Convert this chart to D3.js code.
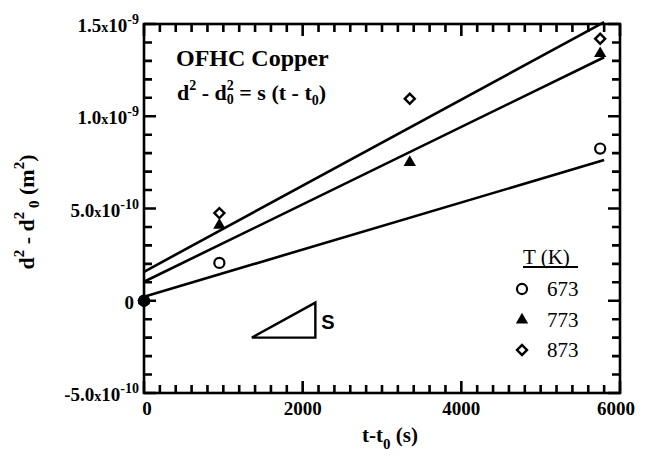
<!DOCTYPE html>
<html><head><meta charset="utf-8">
<script src="https://cdn.jsdelivr.net/npm/d3@7"></script>
<style>
body{margin:0;background:#fff}
</style>
</head><body>
<svg id="c" width="645" height="457"></svg>
<script>
// ---- data ----
const temps = ["673", "773", "873"];
const times = [0, 950, 3350, 5750];
const v673 = [0, 2.05e-10, null, 8.25e-10];
const v773 = [0, 4.1e-10, 7.5e-10, 13.4e-10];
const v873 = [0, 4.75e-10, 10.95e-10, 14.2e-10];
const fitIntercept = [0.22e-10, 1.03e-10, 1.57e-10];
const fitSlope = [1.277e-13, 2.098e-13, 2.333e-13];
const fitRange = [0, 5800];
const xTicks = [0, 2000, 4000, 6000];
const yTicks = [-5e-10, 0, 5e-10, 1e-9, 1.5e-9];
const yTickLabels = [["-5.0x10", "-10"], ["0", ""], ["5.0x10", "-10"], ["1.0x10", "-9"], ["1.5x10", "-9"]];
const slopeTriT = [1360, 2160, 2160];
const slopeTriV = [-2.0e-10, -0.1e-10, -2.0e-10];

const SERIF = "Liberation Serif";
const svg = d3.select("#c");
const x = d3.scaleLinear().domain([0, 6000]).range([144, 620]);
const y = d3.scaleLinear().domain([-5e-10, 1.5e-9]).range([393, 24]);
const X0 = 144, X1 = 620, Y0 = 393, Y1 = 24;

function txt(sel, fam) {
  return sel.append("text").attr("font-family", fam || SERIF)
    .attr("font-weight", "bold").attr("fill", "#000");
}

// ---- frame ----
svg.append("rect").attr("x", X0).attr("y", Y1).attr("width", X1 - X0).attr("height", Y0 - Y1)
  .attr("fill", "none").attr("stroke", "#000").attr("stroke-width", 2.6);

// ---- ticks (inward on all sides) ----
let tickD = "";
d3.range(0, 6001, 200).forEach(t => {
  const len = (t % 2000 === 0) ? 12 : 8;
  tickD += `M${x(t)},${Y0}V${Y0 - len}M${x(t)},${Y1}V${Y1 + len}`;
});
d3.range(-5, 15.5, 1).forEach(k => {
  const len = (k % 5 === 0) ? 12 : 8;
  const py = y(k * 1e-10);
  tickD += `M${X0},${py}H${X0 + len}M${X1},${py}H${X1 - len}`;
});
svg.append("path").attr("d", tickD).attr("fill", "none").attr("stroke", "#000").attr("stroke-width", 2.6);

// ---- tick labels ----
xTicks.forEach((d, i) => {
  txt(svg).attr("x", x(d) + (i === 0 ? 3 : (i === 3 ? -4 : 0))).attr("y", 415)
    .attr("text-anchor", "middle").attr("font-size", 19).text(d);
});

yTicks.forEach((d, i) => {
  const t = txt(svg).attr("x", yTickLabels[i][1] ? 139 : 134).attr("y", y(d) + 8)
    .attr("text-anchor", "end").attr("font-size", 19);
  const lab = yTickLabels[i][0];
  if (lab.includes("x")) {
    const [a, b] = lab.split("x");
    t.append("tspan").text(a);
    t.append("tspan").attr("font-size", 14).text("x");
    t.append("tspan").text(b);
    t.append("tspan").attr("font-size", 14).attr("dy", -8).text(yTickLabels[i][1]);
  } else t.text(lab);
});

// ---- axis titles ----
const xt = txt(svg).attr("x", 390).attr("y", 442).attr("text-anchor", "middle").attr("font-size", 21);
xt.append("tspan").text("t-t");
xt.append("tspan").attr("font-size", 15).attr("dy", 7).text("0");
xt.append("tspan").attr("dy", -7).text(" (s)");

const yt = txt(svg).attr("transform", "translate(34,212) rotate(-90)").attr("text-anchor", "middle").attr("font-size", 22);
yt.append("tspan").text("d");
yt.append("tspan").attr("font-size", 15).attr("dy", -10).text("2");
yt.append("tspan").attr("dy", 10).text(" - d");
yt.append("tspan").attr("font-size", 15).attr("dy", -10).text("2");
yt.append("tspan").attr("font-size", 15).attr("dy", 15).text("  0");
yt.append("tspan").attr("dy", -5).text("  (m");
yt.append("tspan").attr("font-size", 15).attr("dy", -10).text("2");
yt.append("tspan").attr("dy", 10).text(")");

// ---- fit lines ----
const line = d3.line().x(d => x(d[0])).y(d => y(d[1]));
fitSlope.forEach((s, i) => {
  svg.append("path").attr("d", line(fitRange.map(t => [t, fitIntercept[i] + s * t])))
    .attr("fill", "none").attr("stroke", "#000").attr("stroke-width", 2.6);
});

// ---- points ----
const circ = d3.symbol().type(d3.symbolCircle).size(80);
const tri = d3.symbol().type(d3.symbolTriangle).size(66);
const sq = d3.symbol().type(d3.symbolSquare).size(50);
function marker(g, kind, tx, ty) {
  const p = g.append("path").attr("transform", `translate(${tx},${ty})` + (kind === "d" ? " rotate(45)" : ""));
  if (kind === "c") p.attr("d", circ()).attr("fill", "#fff").attr("stroke", "#000").attr("stroke-width", 2.2);
  if (kind === "t") p.attr("d", tri()).attr("fill", "#000");
  if (kind === "d") p.attr("d", sq()).attr("fill", "#fff").attr("stroke", "#000").attr("stroke-width", 2.4);
}
[[v673, "c"], [v873, "d"], [v773, "t"]].forEach(([vals, k]) => {
  times.forEach((t, i) => { if (vals[i] != null) marker(svg, k, x(t), y(vals[i])); });
});
// origin: overlapping markers form a solid blob
svg.append("path").attr("transform", `translate(${x(0)},${y(0)})`)
  .attr("d", d3.symbol().type(d3.symbolCircle).size(110)()).attr("fill", "#000");

// ---- text annotations ----
txt(svg).attr("x", 176).attr("y", 66).attr("font-size", 24).text("OFHC Copper");
const eq = txt(svg).attr("x", 177).attr("y", 100).attr("font-size", 22);
eq.append("tspan").text("d");
eq.append("tspan").attr("font-size", 14).attr("dy", -10).text("2");
eq.append("tspan").attr("dy", 10).text(" - d");
eq.append("tspan").attr("font-size", 14).attr("dy", -10).text("2");
eq.append("tspan").attr("font-size", 14).attr("dx", -7).attr("dy", 14).text("0");
eq.append("tspan").attr("dy", -4).text(" = s (t - t");
eq.append("tspan").attr("font-size", 14).attr("dy", 5).text("0");
eq.append("tspan").attr("dy", -5).text(")");

// slope triangle
const tp = slopeTriT.map((t, i) => [t, slopeTriV[i]]);
svg.append("path").attr("d", line(tp) + "Z").attr("fill", "none").attr("stroke", "#000").attr("stroke-width", 2.4);
txt(svg, "Liberation Sans").attr("x", x(slopeTriT[1]) + 6).attr("y", y(-1.55e-10)).attr("font-size", 20).text("S");

// ---- legend ----
const lg = svg.append("g");
txt(lg).attr("x", 523).attr("y", 264).attr("font-size", 21).attr("font-weight", "normal").text("T (K)");
lg.append("line").attr("x1", 523).attr("x2", 578).attr("y1", 267).attr("y2", 267).attr("stroke", "#000").attr("stroke-width", 1.8);
const legY = [289, 320, 350];
const kinds = ["c", "t", "d"];
temps.forEach((T, i) => {
  marker(lg, kinds[i], 522, legY[i]);
  txt(lg).attr("x", 547).attr("y", legY[i] + 7).attr("font-size", 21).attr("font-weight", "normal").text(T);
});
</script>
</body></html>
